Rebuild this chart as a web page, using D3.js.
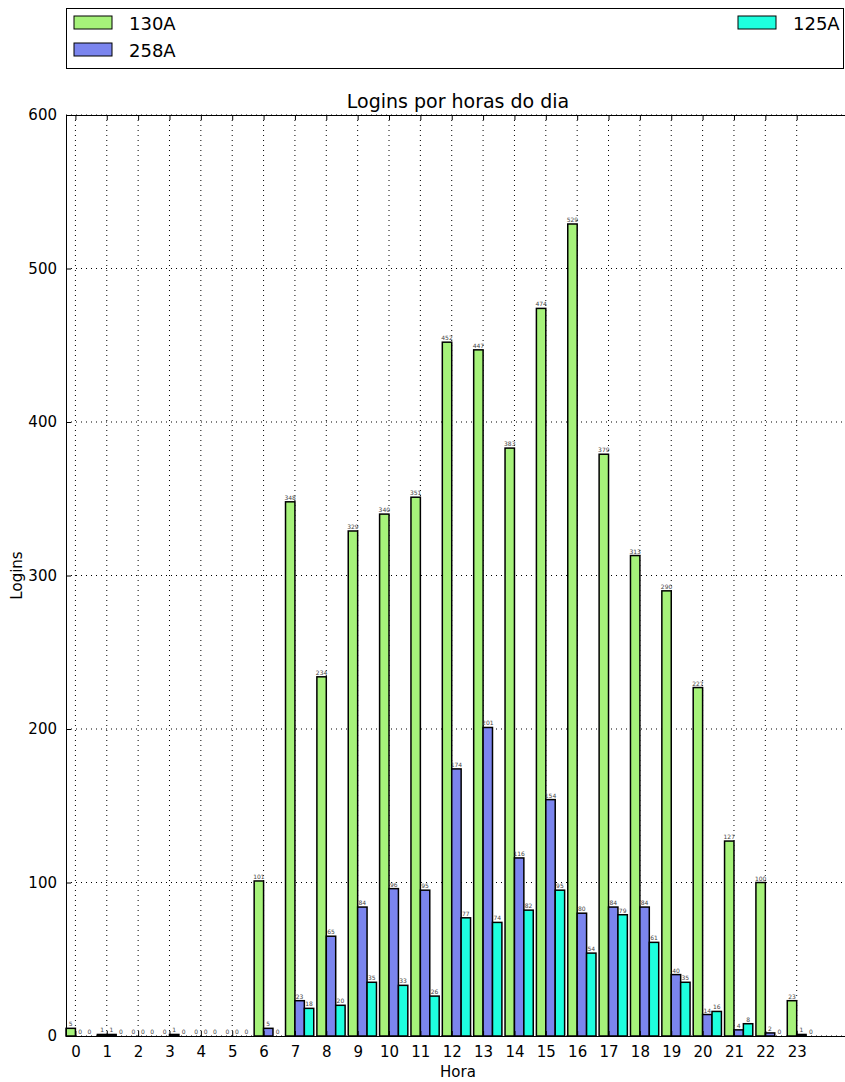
<!DOCTYPE html>
<meta charset="utf-8">
<style>
body { margin: 0; background: #fff; }
text { font-family: "DejaVu Sans", sans-serif; }
.grid line { stroke: #000; stroke-width: 1; stroke-dasharray: 1,4; }
.bar { stroke: #000; stroke-width: 1.5px; }
.val { font-size: 6px; fill: #444; text-anchor: middle; }
</style>
<body>
<script src="https://d3js.org/d3.v7.min.js"></script>
<script>

// data
var hours = d3.range(0, 24);
var seriesNames = ["130A", "258A", "125A"];
var colors = ["#a6f27a", "#7b85ee", "#1effdf"];
var logins130A = [5, 1, 0, 0, 0, 0, 101, 348, 234, 329, 340, 351, 452, 447, 383, 474, 529, 379, 313, 290, 227, 127, 100, 23];
var logins258A = [0, 1, 0, 1, 0, 0, 5, 23, 65, 84, 96, 95, 174, 201, 116, 154, 80, 84, 84, 40, 14, 4, 2, 1];
var logins125A = [0, 0, 0, 0, 0, 0, 0, 18, 20, 35, 33, 26, 77, 74, 82, 95, 54, 79, 61, 35, 16, 8, 0, 0];
var yTicks = [0, 100, 200, 300, 400, 500, 600];

var series = [logins130A, logins258A, logins125A];
var barWidth = 0.3;

// plot box in pixels
var margin = {top: 115, left: 66},
    width = 784,
    height = 921;

var svg = d3.select("body").append("svg")
    .attr("width", 845)
    .attr("height", 1082);

var x = d3.scaleLinear().domain([0, 25]).range([margin.left, margin.left + width]);
var y = d3.scaleLinear().domain([0, 600]).range([margin.top + height, margin.top]);

// grid
var grid = svg.append("g").attr("class", "grid");
grid.selectAll("line.v").data(hours).enter().append("line")
    .attr("class", "v")
    .attr("x1", function(d) { return x(d + barWidth); })
    .attr("x2", function(d) { return x(d + barWidth); })
    .attr("y1", y(0)).attr("y2", y(600));
grid.selectAll("line.h").data(yTicks).enter().append("line")
    .attr("class", "h")
    .attr("x1", x(0)).attr("x2", x(25))
    .attr("y1", function(d) { return y(d); })
    .attr("y2", function(d) { return y(d); });

// bars
series.forEach(function(vals, s) {
  var g = svg.append("g");
  g.selectAll("rect").data(vals).enter().append("rect")
      .attr("class", "bar")
      .attr("x", function(d, i) { return x(i + s * barWidth); })
      .attr("width", x(barWidth) - x(0))
      .attr("y", function(d) { return y(d); })
      .attr("height", function(d) { return y(0) - y(d); })
      .attr("fill", colors[s]);
  g.selectAll("text").data(vals).enter().append("text")
      .attr("class", "val")
      .attr("x", function(d, i) { return x(i + s * barWidth + barWidth / 2); })
      .attr("y", function(d) { return y(d) - 2; })
      .text(function(d) { return d; });
});

// axes, ticks pointing inward
svg.append("g")
    .attr("transform", "translate(0," + y(0) + ")")
    .call(d3.axisBottom(x).tickValues(hours.map(function(h) { return h + barWidth; }))
      .tickFormat(function(d) { return Math.round(d - barWidth); })
      .tickSizeInner(-5).tickSizeOuter(0).tickPadding(10))
    .call(function(g) {
      g.select(".domain").attr("stroke", "#000");
      g.selectAll("text").style("font-size", "15px").attr("fill", "#000");
    });

svg.append("g")
    .attr("transform", "translate(" + x(0) + ",0)")
    .call(d3.axisLeft(y).tickValues(yTicks)
      .tickSizeInner(-5).tickSizeOuter(0).tickPadding(9))
    .call(function(g) {
      g.select(".domain").attr("stroke", "#000");
      g.selectAll("text").style("font-size", "15px").attr("fill", "#000");
    });

// top spine with ticks
svg.append("g")
    .attr("transform", "translate(0," + y(600) + ")")
    .call(d3.axisTop(x).tickValues(hours.map(function(h) { return h + barWidth; }))
      .tickFormat("").tickSizeInner(-5).tickSizeOuter(0))
    .select(".domain").attr("stroke", "#000");

// titles
svg.append("text")
    .attr("x", x(12.5)).attr("y", 108)
    .attr("text-anchor", "middle")
    .style("font-size", "19px")
    .text("Logins por horas do dia");

svg.append("text")
    .attr("x", x(12.5)).attr("y", 1077)
    .attr("text-anchor", "middle")
    .style("font-size", "15px")
    .text("Hora");

svg.append("text")
    .attr("transform", "translate(22," + y(300) + ") rotate(-90)")
    .attr("text-anchor", "middle")
    .style("font-size", "15px")
    .text("Logins");

// legend
var legend = svg.append("g");
legend.append("rect")
    .attr("x", 66.5).attr("y", 8.5)
    .attr("width", 777).attr("height", 60)
    .attr("fill", "#fff").attr("stroke", "#000");

var legendPos = [[74, 16], [74, 43], [738, 16]];
seriesNames.forEach(function(name, s) {
  legend.append("rect")
      .attr("x", legendPos[s][0]).attr("y", legendPos[s][1])
      .attr("width", 38).attr("height", 13)
      .attr("fill", colors[s]).attr("stroke", "#000");
  legend.append("text")
      .attr("x", legendPos[s][0] + 55).attr("y", legendPos[s][1] + 14)
      .style("font-size", "18px")
      .text(name);
});

</script>
</body>
